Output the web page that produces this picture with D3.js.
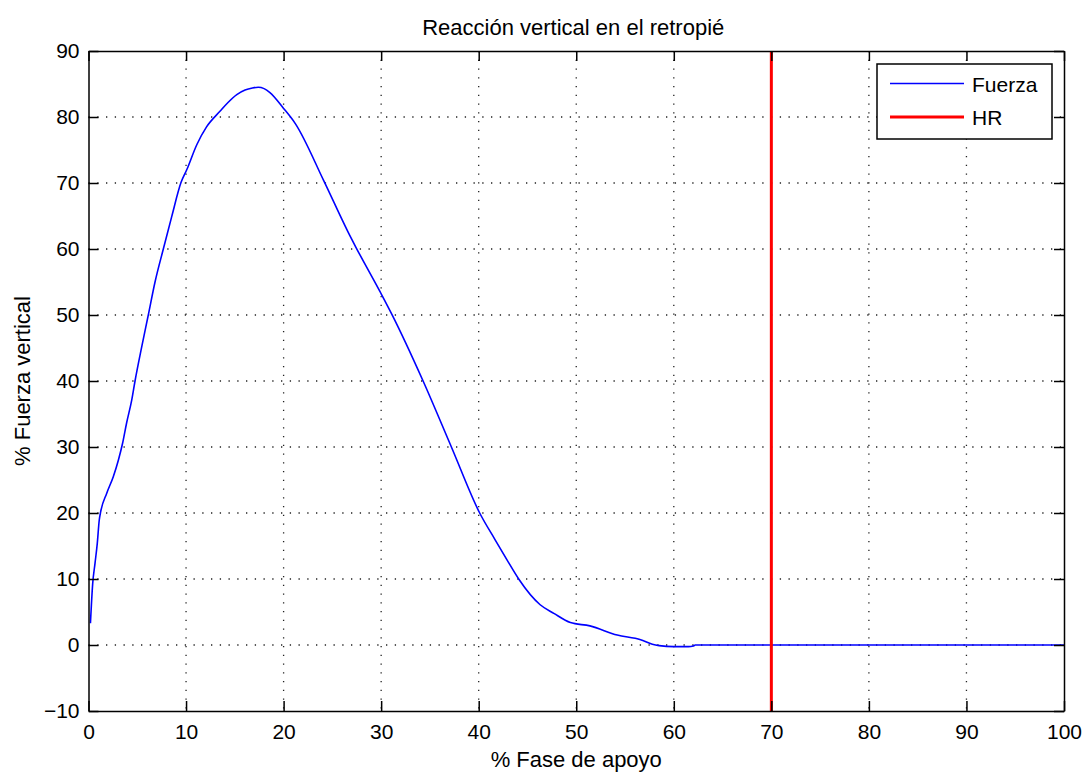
<!DOCTYPE html>
<html>
<head>
<meta charset="utf-8">
<script src="https://cdn.jsdelivr.net/npm/d3@7"></script>
<style>
  body { margin: 0; background: #fff; }
  svg { display: block; }
  .axis text { font-family: 'Liberation Sans', Arial, sans-serif; font-size: 21px; fill: #000; }
  .axis line, .axis path { stroke: #000; stroke-width: 1.5px; }
  .grid line { stroke: #222; stroke-width: 1.3px; stroke-dasharray: 1.3 7.45; }
  .lbl { font-family: 'Liberation Sans', Arial, sans-serif; font-size: 22px; fill: #000; }
</style>
</head>
<body>
<div id="chart"></div>
<script>
// % stance phase vs % vertical force
const fasePct = [0.2, 0.43, 0.67, 0.9, 1.1, 1.25, 1.87, 2.54, 3.06, 3.5, 3.9, 4.43, 4.77, 5.46, 6.13, 6.82,
  7.67, 8.53, 9.49, 10.07, 11.1, 12.1, 13.5, 14.3, 15.2, 16.05, 16.8, 17.4, 18.0, 18.6, 20, 21.2, 24.1,
  26.6, 27.4, 29.9, 31.1, 34.3, 37.2, 40.1, 41.7, 42.9, 44.1, 46.3, 47.7, 49.4, 51.4, 54.2, 56.6, 57.8,
  58.5, 60, 61.5, 62, 62.2, 100];
const fuerza = [3.3, 9.3, 12.4, 15.4, 18.9, 20.2, 23, 25.5, 28, 30.6, 33.6, 37.1, 40, 45.2, 50, 55,
  60, 64.9, 70.1, 72, 75.8, 78.5, 80.9, 82.2, 83.4, 84.1, 84.4, 84.5, 84.3, 83.7, 81.3, 79, 70.4,
  62.6, 60.3, 53.5, 50.1, 40, 30, 20, 15.9, 12.9, 10, 6.1, 4.8, 3.4, 2.9, 1.5, 0.8, 0.1,
  -0.1, -0.25, -0.25, -0.15, 0, 0];
const hrX = 70;
const xTicks = [0, 10, 20, 30, 40, 50, 60, 70, 80, 90, 100];
const yTicks = [-10, 0, 10, 20, 30, 40, 50, 60, 70, 80, 90];
const seriesNames = ["Fuerza", "HR"];

const width = 1087, height = 776;
const margin = { top: 51, right: 23, bottom: 65, left: 88.5 };
const iw = width - margin.left - margin.right;
const ih = height - margin.top - margin.bottom;

const svg = d3.select("#chart").append("svg")
  .attr("width", width)
  .attr("height", height);

const g = svg.append("g").attr("transform", `translate(${margin.left},${margin.top})`);

const x = d3.scaleLinear().domain([0, 100]).range([0, iw]);
const y = d3.scaleLinear().domain([-10, 90]).range([ih, 0]);

// dotted grid
g.append("g").attr("class", "grid")
  .selectAll("line.v").data(xTicks.slice(1, -1)).join("line")
  .attr("x1", d => x(d)).attr("x2", d => x(d))
  .attr("y1", 0).attr("y2", ih);
g.append("g").attr("class", "grid")
  .selectAll("line.h").data(yTicks.slice(1, -1)).join("line")
  .attr("y1", d => y(d)).attr("y2", d => y(d))
  .attr("x1", 0).attr("x2", iw);

g.append("defs").append("clipPath").attr("id", "clip")
  .append("rect").attr("width", iw).attr("height", ih);

// force curve
const pts = fasePct.map((d, i) => ({ fase: d, f: fuerza[i] }));
g.append("path")
  .datum(pts)
  .attr("clip-path", "url(#clip)")
  .attr("fill", "none")
  .attr("stroke", "#0000ff")
  .attr("stroke-width", 1.6)
  .attr("d", d3.line().curve(d3.curveMonotoneX).x(d => x(d.fase)).y(d => y(d.f)));

// HR marker
g.append("line")
  .attr("x1", x(hrX)).attr("x2", x(hrX))
  .attr("y1", 0).attr("y2", ih)
  .attr("stroke", "#ff0000")
  .attr("stroke-width", 3);

// axes (ticks inward on all four sides)
g.append("g").attr("class", "axis")
  .attr("transform", `translate(0,${ih})`)
  .call(d3.axisBottom(x).tickValues(xTicks).tickSize(-10).tickSizeOuter(0).tickPadding(13));
g.append("g").attr("class", "axis")
  .call(d3.axisTop(x).tickValues(xTicks).tickSize(-10).tickSizeOuter(0).tickFormat(""));
g.append("g").attr("class", "axis")
  .call(d3.axisLeft(y).tickValues(yTicks).tickSize(-10).tickSizeOuter(0).tickPadding(9));
g.append("g").attr("class", "axis")
  .attr("transform", `translate(${iw},0)`)
  .call(d3.axisRight(y).tickValues(yTicks).tickSize(-10).tickSizeOuter(0).tickFormat(""));

// title and labels
svg.append("text").attr("class", "lbl")
  .attr("x", margin.left + iw / 2 - 3).attr("y", 35)
  .attr("text-anchor", "middle")
  .style("font-size", "22px")
  .text("Reacción vertical en el retropié");
svg.append("text").attr("class", "lbl")
  .attr("x", margin.left + iw / 2).attr("y", 767)
  .attr("text-anchor", "middle")
  .text("% Fase de apoyo");
svg.append("text").attr("class", "lbl")
  .attr("transform", `translate(30,${margin.top + ih / 2}) rotate(-90)`)
  .attr("text-anchor", "middle")
  .text("% Fuerza vertical");

// legend
const lg = svg.append("g").attr("transform", "translate(877,64)");
lg.append("rect")
  .attr("width", 175).attr("height", 75)
  .attr("fill", "#fff").attr("stroke", "#000").attr("stroke-width", 1.5);
const colors = ["#0000ff", "#ff0000"];
const widths = [1.6, 3];
seriesNames.forEach((name, i) => {
  const yy = 19.5 + i * 33.5;
  lg.append("line")
    .attr("x1", 13).attr("x2", 87).attr("y1", yy).attr("y2", yy)
    .attr("stroke", colors[i]).attr("stroke-width", widths[i]);
  lg.append("text").attr("class", "lbl")
    .attr("x", 95).attr("y", yy + 8)
    .style("font-size", "21px")
    .text(name);
});
</script>
</body>
</html>
